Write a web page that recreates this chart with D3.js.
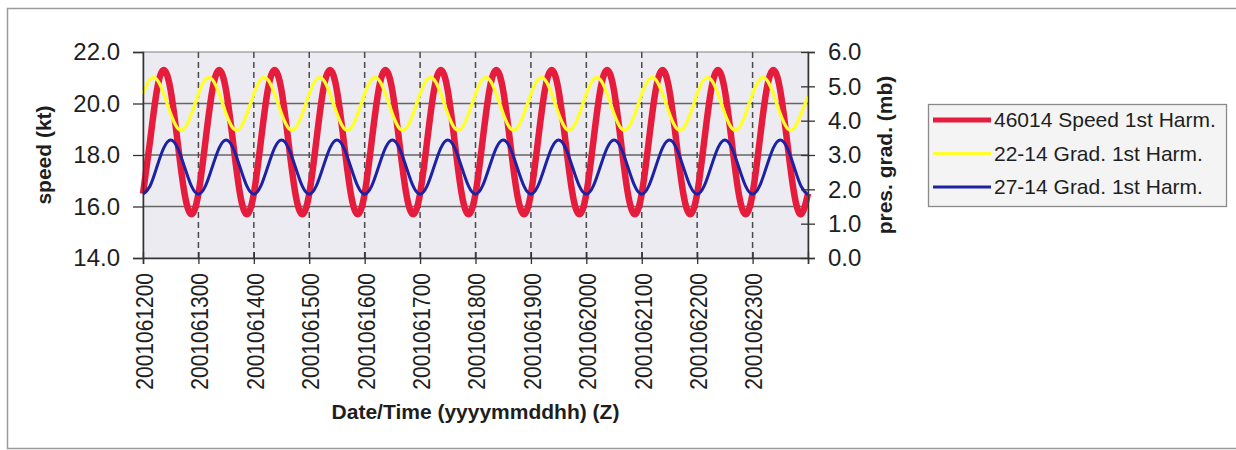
<!DOCTYPE html>
<html>
<head>
<meta charset="utf-8">
<script src="https://cdnjs.cloudflare.com/ajax/libs/d3/7.8.5/d3.min.js"></script>
<style>
  html, body { margin: 0; padding: 0; background: #fff; }
  svg { display: block; font-family: "Liberation Sans", Arial, sans-serif; }
</style>
</head>
<body>
<div id="chart"></div>
<script>
(function () {
    // hours since 2001061200, sampled every 3 h
    const stepHours = 3;

    const dayLabels = [
        "2001061200", "2001061300", "2001061400", "2001061500",
        "2001061600", "2001061700", "2001061800", "2001061900",
        "2001062000", "2001062100", "2001062200", "2001062300"
    ];

    // 46014 speed, 1st harmonic (kt, left axis)
    const speedHarm = [
        16.5, 18.5, 20.5, 21.3, 20.5, 18.5, 16.5, 15.7,
        16.5, 18.5, 20.5, 21.3, 20.5, 18.5, 16.5, 15.7,
        16.5, 18.5, 20.5, 21.3, 20.5, 18.5, 16.5, 15.7,
        16.5, 18.5, 20.5, 21.3, 20.5, 18.5, 16.5, 15.7,
        16.5, 18.5, 20.5, 21.3, 20.5, 18.5, 16.5, 15.7,
        16.5, 18.5, 20.5, 21.3, 20.5, 18.5, 16.5, 15.7,
        16.5, 18.5, 20.5, 21.3, 20.5, 18.5, 16.5, 15.7,
        16.5, 18.5, 20.5, 21.3, 20.5, 18.5, 16.5, 15.7,
        16.5, 18.5, 20.5, 21.3, 20.5, 18.5, 16.5, 15.7,
        16.5, 18.5, 20.5, 21.3, 20.5, 18.5, 16.5, 15.7,
        16.5, 18.5, 20.5, 21.3, 20.5, 18.5, 16.5, 15.7,
        16.5, 18.5, 20.5, 21.3, 20.5, 18.5, 16.5, 15.7,
        16.5
    ];

    // 22-14 pressure gradient, 1st harmonic (mb, right axis)
    const grad2214 = [
        4.78, 5.20, 5.20, 4.78, 4.20, 3.78, 3.78, 4.20,
        4.78, 5.20, 5.20, 4.78, 4.20, 3.78, 3.78, 4.20,
        4.78, 5.20, 5.20, 4.78, 4.20, 3.78, 3.78, 4.20,
        4.78, 5.20, 5.20, 4.78, 4.20, 3.78, 3.78, 4.20,
        4.78, 5.20, 5.20, 4.78, 4.20, 3.78, 3.78, 4.20,
        4.78, 5.20, 5.20, 4.78, 4.20, 3.78, 3.78, 4.20,
        4.78, 5.20, 5.20, 4.78, 4.20, 3.78, 3.78, 4.20,
        4.78, 5.20, 5.20, 4.78, 4.20, 3.78, 3.78, 4.20,
        4.78, 5.20, 5.20, 4.78, 4.20, 3.78, 3.78, 4.20,
        4.78, 5.20, 5.20, 4.78, 4.20, 3.78, 3.78, 4.20,
        4.78, 5.20, 5.20, 4.78, 4.20, 3.78, 3.78, 4.20,
        4.78, 5.20, 5.20, 4.78, 4.20, 3.78, 3.78, 4.20,
        4.70
    ];

    // 27-14 pressure gradient, 1st harmonic (mb, right axis)
    const grad2714 = [
        1.86, 2.09, 2.65, 3.21, 3.44, 3.21, 2.65, 2.09,
        1.86, 2.09, 2.65, 3.21, 3.44, 3.21, 2.65, 2.09,
        1.86, 2.09, 2.65, 3.21, 3.44, 3.21, 2.65, 2.09,
        1.86, 2.09, 2.65, 3.21, 3.44, 3.21, 2.65, 2.09,
        1.86, 2.09, 2.65, 3.21, 3.44, 3.21, 2.65, 2.09,
        1.86, 2.09, 2.65, 3.21, 3.44, 3.21, 2.65, 2.09,
        1.86, 2.09, 2.65, 3.21, 3.44, 3.21, 2.65, 2.09,
        1.86, 2.09, 2.65, 3.21, 3.44, 3.21, 2.65, 2.09,
        1.86, 2.09, 2.65, 3.21, 3.44, 3.21, 2.65, 2.09,
        1.86, 2.09, 2.65, 3.21, 3.44, 3.21, 2.65, 2.09,
        1.86, 2.09, 2.65, 3.21, 3.44, 3.21, 2.65, 2.09,
        1.86, 2.09, 2.65, 3.21, 3.44, 3.21, 2.65, 2.09,
        1.84
    ];

    const leftTicks = [14, 16, 18, 20, 22];
    const rightTicks = [0, 1, 2, 3, 4, 5, 6];
    const legendNames = ["46014 Speed 1st Harm.", "22-14 Grad. 1st Harm.", "27-14 Grad. 1st Harm."];

    const W = 1236, H = 450;
    const plot = { left: 143, right: 808, top: 52, bottom: 258 };

    const svg = d3.select("#chart").append("svg")
        .attr("width", W)
        .attr("height", H);

    // outer chart frame
    svg.append("rect")
        .attr("x", 7.5).attr("y", 8.5)
        .attr("width", W + 10).attr("height", 440)
        .attr("fill", "#fff")
        .attr("stroke", "#9a9a9a")
        .attr("stroke-width", 1.5);

    const totalHours = (speedHarm.length - 1) * stepHours;
    const x = d3.scaleLinear().domain([0, totalHours]).range([plot.left, plot.right]);
    const yL = d3.scaleLinear().domain([14, 22]).range([plot.bottom, plot.top]);
    const yR = d3.scaleLinear().domain([0, 6]).range([plot.bottom, plot.top]);

    const dayTicks = d3.range(0, totalHours + 1, 24);

    // plot background
    svg.append("rect")
        .attr("x", plot.left).attr("y", plot.top)
        .attr("width", plot.right - plot.left)
        .attr("height", plot.bottom - plot.top)
        .attr("fill", "#ecebf1")
        .attr("stroke", "#808080");

    // horizontal grid
    svg.append("g").selectAll("line")
        .data(leftTicks.filter(d => d > 14 && d < 22))
        .join("line")
        .attr("x1", plot.left).attr("x2", plot.right)
        .attr("y1", d => yL(d)).attr("y2", d => yL(d))
        .attr("stroke", "#666")
        .attr("stroke-width", 1.3);

    // dashed day lines
    svg.append("g").selectAll("line")
        .data(dayTicks.filter(d => d > 0 && d < totalHours))
        .join("line")
        .attr("x1", d => x(d)).attr("x2", d => x(d))
        .attr("y1", plot.top).attr("y2", plot.bottom)
        .attr("stroke", "#4a4a4a")
        .attr("stroke-width", 1.5)
        .attr("stroke-dasharray", "6,4");

    const hours = speedHarm.map((d, i) => i * stepHours);

    const lineL = d3.line()
        .x((d, i) => x(hours[i]))
        .y(d => yL(d))
        .curve(d3.curveNatural);
    const lineR = d3.line()
        .x((d, i) => x(hours[i]))
        .y(d => yR(d))
        .curve(d3.curveNatural);

    const series = [
        { values: speedHarm, gen: lineL, color: "#e61c3d", width: 6.5 },
        { values: grad2214, gen: lineR, color: "#ffff2b", width: 3.3 },
        { values: grad2714, gen: lineR, color: "#1c22a3", width: 3 }
    ];

    series.forEach(s => {
        svg.append("path")
            .datum(s.values)
            .attr("fill", "none")
            .attr("stroke", s.color)
            .attr("stroke-width", s.width)
            .attr("stroke-linejoin", "round")
            .attr("d", s.gen);
    });

    // axes
    const leftAxis = svg.append("g")
        .attr("transform", `translate(${plot.left},0)`)
        .call(d3.axisLeft(yL).tickValues(leftTicks).tickFormat(d3.format(".1f"))
            .tickSize(10).tickPadding(13));

    const rightAxis = svg.append("g")
        .attr("transform", `translate(${plot.right},0)`)
        .call(d3.axisRight(yR).tickValues(rightTicks).tickFormat(d3.format(".1f"))
            .tickSize(7).tickPadding(13));
    rightAxis.selectAll(".tick line").attr("x1", -7);

    const bottomAxis = svg.append("g")
        .attr("transform", `translate(0,${plot.bottom})`)
        .call(d3.axisBottom(x).tickValues(dayTicks)
            .tickFormat((d, i) => dayLabels[i] || "").tickSize(6));
    bottomAxis.selectAll(".tick line").attr("y1", -6);
    bottomAxis.selectAll(".tick text")
        .attr("transform", "scale(1.12,1) rotate(-90)")
        .attr("x", -15)
        .attr("y", 1)
        .attr("dy", "0.35em")
        .attr("text-anchor", "end")
        .attr("font-size", 21);

    [leftAxis, rightAxis, bottomAxis].forEach(a => {
        a.attr("font-family", null);
        a.select(".domain").attr("stroke", "#333").attr("stroke-width", 1.5);
        a.selectAll(".tick line").attr("stroke", "#333").attr("stroke-width", 1.3);
        a.selectAll(".tick text").attr("fill", "#1e1e1e");
    });
    leftAxis.selectAll(".tick text").attr("font-size", 24);
    rightAxis.selectAll(".tick text").attr("font-size", 24);

    // axis titles
    svg.append("text")
        .attr("transform", `translate(51,${(plot.top + plot.bottom) / 2}) rotate(-90)`)
        .attr("text-anchor", "middle")
        .attr("font-weight", "bold")
        .attr("font-size", 21)
        .attr("fill", "#1e1e1e")
        .text("speed (kt)");

    svg.append("text")
        .attr("transform", `translate(892,${(plot.top + plot.bottom) / 2}) rotate(-90)`)
        .attr("text-anchor", "middle")
        .attr("font-weight", "bold")
        .attr("font-size", 21)
        .attr("fill", "#1e1e1e")
        .text("pres. grad. (mb)");

    svg.append("text")
        .attr("x", (plot.left + plot.right) / 2)
        .attr("y", 419)
        .attr("text-anchor", "middle")
        .attr("font-weight", "bold")
        .attr("font-size", 21)
        .attr("fill", "#1e1e1e")
        .text("Date/Time (yyyymmddhh) (Z)");

    // legend
    const legend = svg.append("g").attr("transform", "translate(928,104)");
    legend.append("rect")
        .attr("x", 0.5).attr("y", 0.5)
        .attr("width", 298).attr("height", 102)
        .attr("fill", "#f4f4f4")
        .attr("stroke", "#8a8a8a")
        .attr("stroke-width", 1.3);

    const rows = legend.selectAll("g.row")
        .data(series)
        .join("g")
        .attr("class", "row")
        .attr("transform", (d, i) => `translate(0,${16 + i * 33.5})`);
    rows.append("line")
        .attr("x1", 5).attr("x2", 63)
        .attr("stroke", d => d.color)
        .attr("stroke-width", d => d.width > 5 ? 5 : 3);
    rows.append("text")
        .attr("x", 66)
        .attr("dy", "0.35em")
        .attr("font-size", 21)
        .attr("fill", "#1e1e1e")
        .text((d, i) => legendNames[i]);
})();
</script>
</body>
</html>
